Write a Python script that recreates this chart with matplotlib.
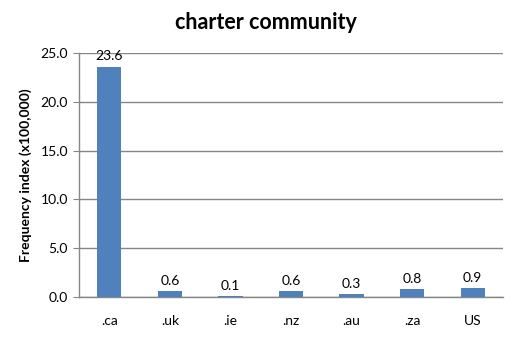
import numpy as np
import matplotlib
matplotlib.use("Agg")
import matplotlib.pyplot as plt

# data
domains = [".ca", ".uk", ".ie", ".nz", ".au", ".za", "US"]
freq = [23.6, 0.6, 0.1, 0.6, 0.3, 0.8, 0.9]
yticks = [0.0, 5.0, 10.0, 15.0, 20.0, 25.0]

plt.rcParams['font.family'] = ['Lato', 'DejaVu Sans']

fig = plt.figure(figsize=(5.32, 3.42), dpi=100)
ax = fig.add_axes([0.1485, 0.1316, 0.797, 0.7134])

x = np.arange(len(domains))
ax.bar(x, freq, width=0.4, color='#4F81BD', zorder=3)

# value labels above bars
for xi, v in zip(x, freq):
    ax.text(xi, v + 0.45, f"{v:.1f}", ha='center', va='bottom', fontsize=10, zorder=4)

ax.set_xlim(-0.5, len(domains) - 0.5)
ax.set_ylim(0, 25)
ax.set_yticks(yticks)
ax.set_yticklabels([f"{t:.1f}" for t in yticks], fontsize=10)
ax.set_xticks(x)
ax.set_xticklabels(domains, fontsize=10)
ax.tick_params(axis='x', length=0, pad=13)
ax.tick_params(axis='y', length=4, color='#868686', pad=4)

ax.yaxis.grid(True, color='#868686', linewidth=1, zorder=0)
for s in ['top', 'right']:
    ax.spines[s].set_visible(False)
for s in ['left', 'bottom']:
    ax.spines[s].set_color('#868686')
    ax.spines[s].set_linewidth(1)

ax.set_ylabel("Frequency index (x100,000)", fontsize=10, fontweight='bold', labelpad=6)
fig.suptitle("charter community", fontsize=15.5, fontweight='bold', y=0.965)

fig.savefig("out.png", dpi=100)
